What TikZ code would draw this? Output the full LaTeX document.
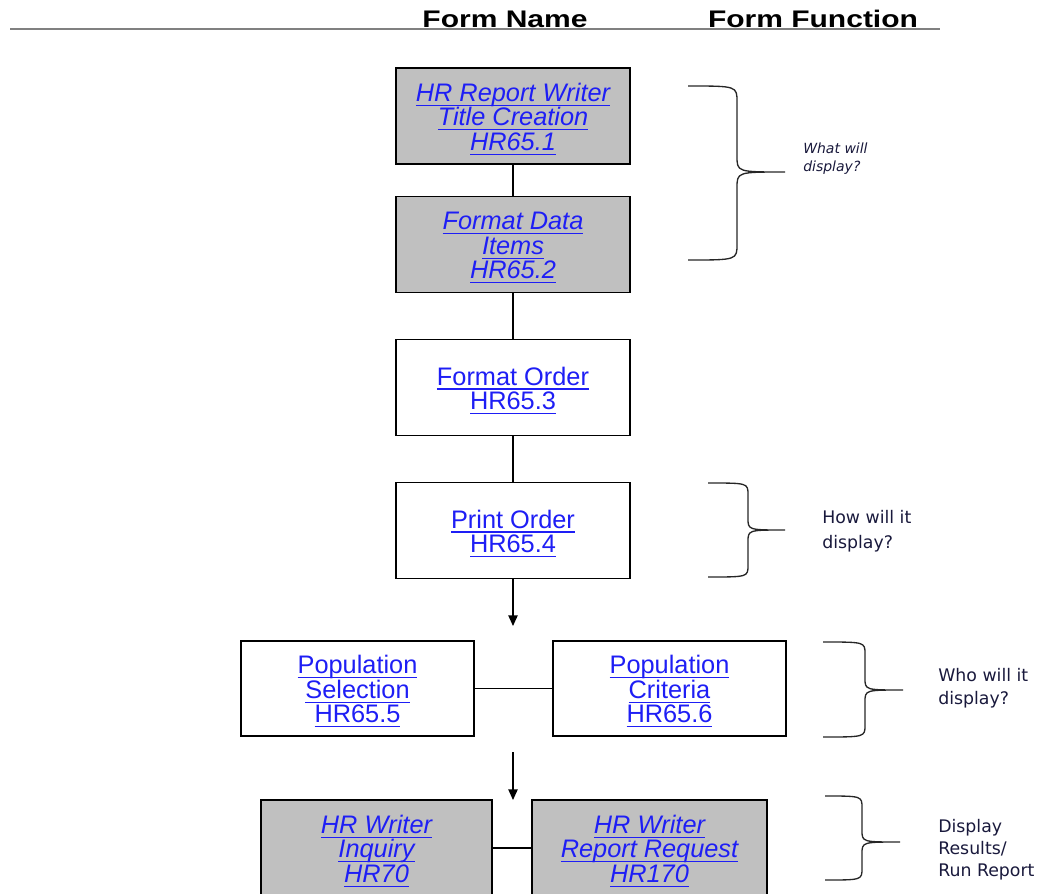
\documentclass[tikz,border=0pt]{standalone}
\usepackage{fontspec}
\setmainfont{Liberation Sans}
\newfontfamily\sidefont{DejaVu Sans}
\usetikzlibrary{arrows.meta}
\definecolor{linkblue}{RGB}{30,30,245}
\definecolor{boxgray}{RGB}{192,192,192}
\definecolor{sidetext}{RGB}{25,25,60}
\newlength{\ulw}
\newcommand{\ulink}[1]{\settowidth{\ulw}{#1}\rlap{\smash{\rule[-3.4pt]{\ulw}{0.9pt}}}\smash{#1}\rule[-1.2pt]{0pt}{17.2pt}}
\newcommand{\mybrace}[7]{% x0, ytop, xv, xtip, ymid, ybot, r
  \draw[bracestyle] (#1,#2) .. controls (#3,#2) .. (#3,#2+#7) -- (#3,#5-#7)
    .. controls (#3,#5) .. (#4,#5) .. controls (#3,#5) .. (#3,#5+#7)
    -- (#3,#6-#7) .. controls (#3,#6) .. (#1,#6);}
\begin{document}
\begin{tikzpicture}[x=0.75pt,y=-0.75pt,
  formbox/.style={draw=black,line width=1pt,minimum width=175.5pt,minimum height=72pt,
    align=center,text=linkblue,font=\fontsize{19}{18.4}\selectfont,inner sep=2pt},
  grayform/.style={formbox,fill=boxgray,font=\fontsize{19}{18.4}\selectfont\itshape},
  whiteform/.style={formbox,fill=white},
  link/.style={line width=0.9pt,draw=black},
  arrowlink/.style={line width=1pt,draw=black,-{Triangle[length=8pt,width=7pt]}},
  bracestyle/.style={line width=1pt,draw=black!85},
  headtext/.style={font=\bfseries\fontsize{18}{20}\selectfont,anchor=base,inner sep=0pt},
  side/.style={font=\sidefont\fontsize{13}{17}\selectfont,text=sidetext,align=left,anchor=west,inner sep=0pt}]
\useasboundingbox (0,0) rectangle (1039,893);
\clip (0,0) rectangle (1039,893);
% header
\coordinate (hl) at (10,28.5);
\coordinate (hr) at (940,28.5);
\draw[line width=1.5pt,draw=black!50] (hl) -- (hr);
\node[headtext] (hname) at (505,27) {\scalebox{1.25}[1]{Form Name}};
\node[headtext] (hfunc) at (813,27) {\scalebox{1.25}[1]{Form Function}};
% boxes
\node[grayform] (b1) at (513,116) {\ulink{HR Report Writer}\\\ulink{Title Creation}\\\ulink{HR65.1}};
\node[grayform] (b2) at (513,244.5) {\ulink{Format Data}\\\ulink{Items}\\\ulink{HR65.2}};
\node[whiteform] (b3) at (513,387.5) {\ulink{Format Order}\\\ulink{HR65.3}};
\node[whiteform] (b4) at (513,530.5) {\ulink{Print Order}\\\ulink{HR65.4}};
\node[whiteform,minimum width=174.75pt,minimum height=71.25pt] (b5) at (357.5,688.5) {\ulink{Population}\\\ulink{Selection}\\\ulink{HR65.5}};
\node[whiteform,minimum width=174.75pt,minimum height=71.25pt] (b6) at (669.5,688.5) {\ulink{Population}\\\ulink{Criteria}\\\ulink{HR65.6}};
\node[grayform,minimum width=173.25pt] (b7) at (376.5,848) {\ulink{HR Writer}\\\ulink{Inquiry}\\\ulink{HR70}};
\node[grayform,minimum width=176.25pt] (b8) at (649.5,848) {\ulink{HR Writer}\\\ulink{Report Request}\\\ulink{HR170}};
% connectors
\draw[link] (b1.south) -- (b2.north);
\draw[link] (b2.south) -- (b3.north);
\draw[link] (b3.south) -- (b4.north);
\coordinate (a1end) at (513,626);
\draw[arrowlink] (b4.south) -- (a1end);
\draw[link] (b5.east) -- (b6.west);
\coordinate (a2start) at (513,752);
\coordinate (a2end) at (513,800);
\draw[arrowlink] (a2start) -- (a2end);
\draw[link] (b7.east |- 0,848) -- (b8.west |- 0,848);
% braces
\mybrace{688}{86}{737}{785}{172}{260}{16}
\mybrace{708}{483}{748}{785}{530}{577}{12}
\mybrace{823}{642}{865}{903}{690}{737}{12}
\mybrace{825}{796}{862}{900}{842}{880}{12}
% side texts
\node[side,font=\sidefont\itshape\fontsize{10.5}{13.5}\selectfont] (t1) at (803,159) {What will\\display?};
\node[side,font=\sidefont\fontsize{13}{18.5}\selectfont] (t2) at (822,531) {How will it\\display?};
\node[side] (t3) at (938,688) {Who will it\\display?};
\node[side,font=\sidefont\fontsize{13}{16.5}\selectfont] (t4) at (938,850) {Display\\Results/\\Run Report};
\end{tikzpicture}
\end{document}
